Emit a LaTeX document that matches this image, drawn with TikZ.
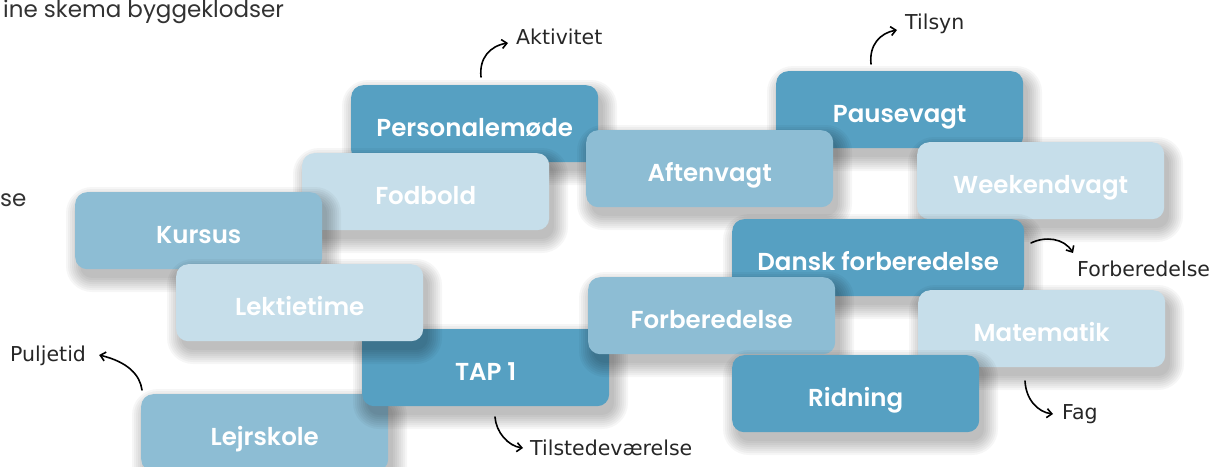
\documentclass[tikz,border=0pt]{standalone}
\usepackage{fontspec}
\setmainfont{Poppins}
\newfontfamily\boxfont{Poppins}[UprightFont=* SemiBold, Ligatures=NoCommon]
\newfontfamily\handfont{DejaVu Sans}
\usetikzlibrary{arrows.meta}
\definecolor{cDark}{RGB}{86,160,194}
\definecolor{cMid}{RGB}{141,189,212}
\definecolor{cLight}{RGB}{198,222,234}
\definecolor{cText}{RGB}{50,50,50}
\newcommand\mybox[6]{% name, style, x, y, width, text
  \foreach \i in {0,...,7}{
    \fill[black, opacity=0.034, rounded corners={12pt+2pt*\i}]
      ({#3+5-2*\i},{#4+9-2*\i}) rectangle ({#3+#5+5+2*\i},{#4+77+9+2*\i});
  }
  \node[#2, minimum width=#5pt] (#1) at (#3,#4) {#6};
}
\begin{document}
\begin{tikzpicture}[x=1pt,y=-1pt,
  blk/.style={rounded corners=12pt, minimum height=77pt,
    anchor=north west, inner sep=0pt, text=white,
    font=\boxfont\fontsize{24.5}{27}\selectfont,
    text height=26pt, text depth=0pt},
  dark/.style={blk, fill=cDark},
  mid/.style={blk, fill=cMid},
  light/.style={blk, fill=cLight},
  hand/.style={font=\handfont\fontsize{20.5}{24}\selectfont, text=black!85, inner sep=0pt},
  harrow/.style={line width=1.6pt, line cap=round, -{Straight Barb[length=5pt,width=9pt]}},
  plain/.style={font=\fontsize{23}{26}\selectfont, text=cText, inner sep=0pt}
]
\clip (0,0) rectangle (1217,466);
\useasboundingbox (0,0) rectangle (1217,466);

% cut-off texts
\node[plain, anchor=base west] (title) at (3,17) {ine skema byggeklodser};
\node[plain, anchor=base west] (se) at (0,206) {se};

% boxes, bottom to top
\mybox{pm}{dark}{351}{85}{247}{Personalemøde}
\mybox{pv}{dark}{776}{71}{247}{Pausevagt}
\mybox{fb}{light}{302}{153}{247}{Fodbold}
\mybox{av}{mid}{586}{130}{247}{Aftenvagt}
\mybox{wv}{light}{917}{142}{247}{Weekendvagt}
\mybox{ku}{mid}{75}{192}{247}{Kursus}
\mybox{ls}{mid}{141}{394}{247}{Lejrskole}
\mybox{tap}{dark}{362}{329}{247}{TAP 1}
\mybox{lt}{light}{176}{264}{247}{Lektietime}
\mybox{df}{dark}{732}{219}{292}{Dansk forberedelse}
\mybox{fo}{mid}{588}{277}{247}{Forberedelse}
\mybox{ma}{light}{918}{290}{247}{Matematik}
\mybox{ri}{dark}{732}{355}{247}{Ridning}

% handwritten labels
\node[hand, anchor=west] (akt) at (516,37)  {Aktivitet};
\node[hand, anchor=west] (til) at (905,24)  {Tilsyn};
\node[hand, anchor=west] (forb) at (1077,269) {Forberedelse};
\node[hand, anchor=west] (fag) at (1062,414) {Fag};
\node[hand, anchor=west] (pul) at (10,356)  {Puljetid};
\node[hand, anchor=west] (tst) at (530,448) {Tilstedeværelse};

\coordinate (s1) at (481,77);
\coordinate (s2) at (871,64);
\coordinate (s3) at (1031,243);
\coordinate (s4) at (1025,381);
\coordinate (s5) at (142,390);
\coordinate (s6) at (495,417);

\draw[harrow] (s1) .. controls (479,58) and (490,46) .. ([shift={(-8,6)}]akt.west);
\draw[harrow] (s2) .. controls (869,45) and (880,33) .. ([shift={(-8,6)}]til.west);
\draw[harrow] (s3) .. controls (1045,236) and (1064,238) .. ([shift={(-4,-16)}]forb.west);
\draw[harrow] (s4) .. controls (1026,400) and (1038,412) .. ([shift={(-9,0)}]fag.west);
\draw[harrow] (s5) .. controls (140,375) and (128,362) .. ([shift={(13,-1)}]pul.east);
\draw[harrow] (s6) .. controls (496,432) and (508,446) .. ([shift={(-7,0)}]tst.west);
\end{tikzpicture}
\end{document}
